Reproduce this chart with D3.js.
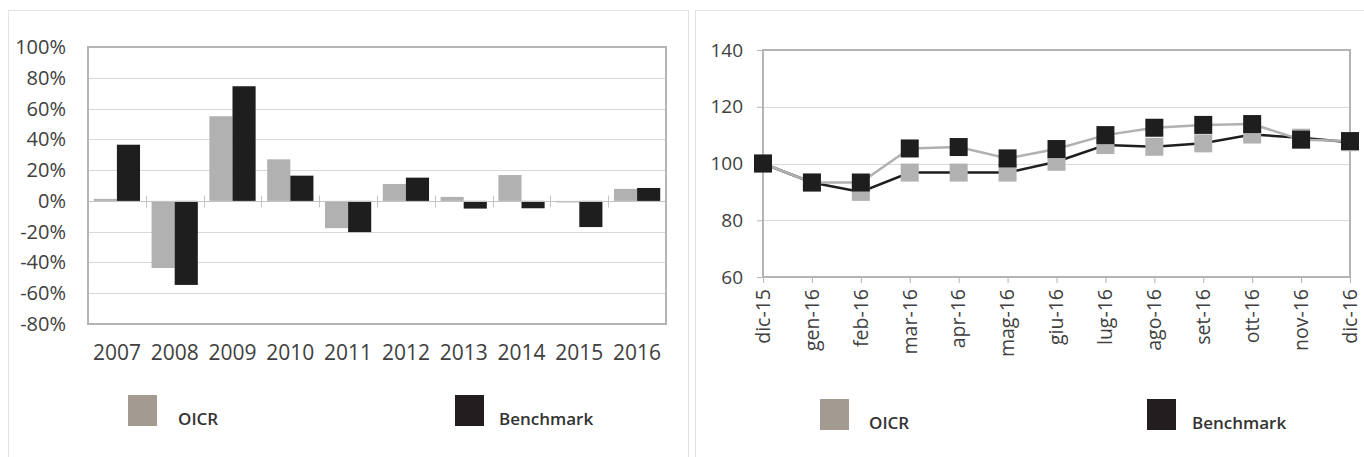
<!DOCTYPE html>
<html>
<head>
<meta charset="utf-8">
<script src="https://cdn.jsdelivr.net/npm/d3@7"></script>
<style>
  body { margin: 0; background: #fff; }
  svg { display: block; font-family: "Open Sans", "Noto Sans", sans-serif; }
</style>
</head>
<body>
<svg width="1364" height="457"></svg>
<script>
// data
var years = ["2007","2008","2009","2010","2011","2012","2013","2014","2015","2016"];
var oicrYear = [0.013, -0.436, 0.55, 0.27, -0.177, 0.11, 0.026, 0.168, -0.01, 0.078];
var benchYear = [0.365, -0.546, 0.745, 0.164, -0.203, 0.151, -0.05, -0.048, -0.17, 0.084];
var yearTicks = [-0.8, -0.6, -0.4, -0.2, 0, 0.2, 0.4, 0.6, 0.8, 1.0];

var months = ["dic-15","gen-16","feb-16","mar-16","apr-16","mag-16","giu-16","lug-16","ago-16","set-16","ott-16","nov-16","dic-16"];
// grey line (drawn with black squares in the original)
var greyLine = [100, 93.3, 93.3, 105.3, 105.8, 101.8, 105.1, 110, 112.6, 113.6, 113.9, 108.4, 107.9];
// black line (drawn with grey squares in the original)
var blackLine = [100, 93.3, 90, 96.8, 96.8, 96.8, 100.6, 106.5, 105.9, 107.1, 110.2, 109.1, 107.5];
var indexTicks = [60, 80, 100, 120, 140];

var seriesNames = ["OICR", "Benchmark"];
var barColors = ["#b1b1b1", "#1e1e1e"];
var legendColors = ["#a39b92", "#221e1f"];

var svg = d3.select("svg");

// panel borders
svg.append("rect").attr("x", 8.5).attr("y", 10.5).attr("width", 680).attr("height", 470)
    .attr("fill", "none").attr("stroke", "#e2e2e2");
svg.append("rect").attr("x", 695.5).attr("y", 10.5).attr("width", 680).attr("height", 470)
    .attr("fill", "none").attr("stroke", "#e2e2e2");

// ---------- left: yearly returns ----------
var L = {left: 88, right: 666, top: 47, bottom: 324};

var x0 = d3.scaleBand().domain(years).range([L.left, L.right]).paddingInner(0).paddingOuter(0);
var x1 = d3.scaleBand().domain(seriesNames).range([x0.bandwidth() * 0.1, x0.bandwidth() * 0.9]);
var yL = d3.scaleLinear().domain([-0.8, 1.0]).range([L.bottom, L.top]);

var gl = svg.append("g");

gl.selectAll(".grid").data(yearTicks.filter(function(d) { return d != 0; }))
    .enter().append("line")
    .attr("x1", L.left).attr("x2", L.right)
    .attr("y1", function(d) { return Math.round(yL(d)) + 0.5; })
    .attr("y2", function(d) { return Math.round(yL(d)) + 0.5; })
    .attr("stroke", "#d9d9d9");

var yearRows = years.map(function(y, i) { return {year: y, vals: [oicrYear[i], benchYear[i]]}; });

gl.selectAll(".grp").data(yearRows)
    .enter().append("g")
    .attr("transform", function(d) { return "translate(" + x0(d.year) + ",0)"; })
    .selectAll("rect")
    .data(function(d) { return d.vals.map(function(v, j) { return {name: seriesNames[j], v: v, j: j}; }); })
    .enter().append("rect")
    .attr("x", function(d) { return x1(d.name); })
    .attr("width", x1.bandwidth())
    .attr("y", function(d) { return yL(Math.max(0, d.v)); })
    .attr("height", function(d) { return Math.abs(yL(d.v) - yL(0)); })
    .attr("fill", function(d) { return barColors[d.j]; });

// zero axis with category ticks
var zeroY = Math.round(yL(0)) + 0.5;
gl.append("line").attr("x1", L.left).attr("x2", L.right).attr("y1", zeroY).attr("y2", zeroY)
    .attr("stroke", "#c4c4c4");
gl.selectAll(".ctick").data(years.slice(1))
    .enter().append("line")
    .attr("x1", function(d) { return Math.round(x0(d)) + 0.5; })
    .attr("x2", function(d) { return Math.round(x0(d)) + 0.5; })
    .attr("y1", zeroY - 6).attr("y2", zeroY + 6)
    .attr("stroke", "#c4c4c4");

// frame
gl.append("rect").attr("x", L.left).attr("y", L.top).attr("width", L.right - L.left).attr("height", L.bottom - L.top)
    .attr("fill", "none").attr("stroke", "#b4b4b4").attr("stroke-width", 2);

// y labels
var pct = d3.format(".0%");
gl.selectAll(".ylab").data(yearTicks)
    .enter().append("text")
    .attr("x", 66).attr("y", function(d) { return yL(d); })
    .attr("dy", "0.35em").attr("text-anchor", "end")
    .attr("font-size", 20).attr("fill", "#404040")
    .text(function(d) { return pct(d).replace("−", "-"); });

// x labels
gl.selectAll(".xlab").data(years)
    .enter().append("text")
    .attr("x", function(d) { return x0(d) + x0.bandwidth() / 2; })
    .attr("y", 360)
    .attr("text-anchor", "middle")
    .attr("font-size", 21).attr("fill", "#404040")
    .text(function(d) { return d; });

// ---------- right: monthly index ----------
var R = {left: 763, right: 1350, top: 50, bottom: 277};

var xR = d3.scalePoint().domain(months).range([R.left, R.right]);
var yR = d3.scaleLinear().domain([60, 140]).range([R.bottom, R.top]);

var gr = svg.append("g");

gr.selectAll(".grid").data(indexTicks.slice(1, -1))
    .enter().append("line")
    .attr("x1", R.left).attr("x2", R.right)
    .attr("y1", function(d) { return Math.round(yR(d)) + 0.5; })
    .attr("y2", function(d) { return Math.round(yR(d)) + 0.5; })
    .attr("stroke", "#d9d9d9");

// axes ticks
gr.append("g").attr("transform", "translate(" + R.left + ",0)")
    .call(d3.axisLeft(yR).tickValues(indexTicks).tickSize(6).tickFormat(""))
    .call(function(g) { g.select(".domain").remove(); g.selectAll("line").attr("stroke", "#b4b4b4"); });
gr.append("g").attr("transform", "translate(0," + R.bottom + ")")
    .call(d3.axisBottom(xR).tickSize(6).tickFormat(""))
    .call(function(g) { g.select(".domain").remove(); g.selectAll("line").attr("stroke", "#b4b4b4"); });

// frame
gr.append("rect").attr("x", R.left).attr("y", R.top).attr("width", R.right - R.left).attr("height", R.bottom - R.top)
    .attr("fill", "none").attr("stroke", "#b4b4b4").attr("stroke-width", 2);

var line = d3.line()
    .x(function(d, i) { return xR(months[i]); })
    .y(function(d) { return yR(d); });

gr.append("path").datum(blackLine).attr("d", line)
    .attr("fill", "none").attr("stroke", "#1e1e1e").attr("stroke-width", 2.5);
gr.append("path").datum(greyLine).attr("d", line)
    .attr("fill", "none").attr("stroke", "#b1b1b1").attr("stroke-width", 2.5);

var ms = 18;
gr.selectAll(".mGrey").data(blackLine)
    .enter().append("rect")
    .attr("x", function(d, i) { return xR(months[i]) - ms / 2; })
    .attr("y", function(d) { return yR(d) - ms / 2; })
    .attr("width", ms).attr("height", ms)
    .attr("fill", "#b1b1b1");
gr.selectAll(".mBlack").data(greyLine)
    .enter().append("rect")
    .attr("x", function(d, i) { return xR(months[i]) - ms / 2; })
    .attr("y", function(d) { return yR(d) - ms / 2; })
    .attr("width", ms).attr("height", ms)
    .attr("fill", "#1e1e1e");

// y labels
gr.selectAll(".ylab").data(indexTicks)
    .enter().append("text")
    .attr("x", 743).attr("y", function(d) { return yR(d); })
    .attr("dy", "0.35em").attr("text-anchor", "end")
    .attr("font-size", 19).attr("fill", "#404040")
    .text(function(d) { return d; });

// x labels, rotated
gr.selectAll(".xlab").data(months)
    .enter().append("text")
    .attr("transform", function(d) { return "translate(" + xR(d) + ",289) rotate(-90)"; })
    .attr("dy", "0.35em").attr("text-anchor", "end")
    .attr("font-size", 19.5).attr("fill", "#404040")
    .text(function(d) { return d; });

// ---------- legends ----------
function legend(items) {
    items.forEach(function(it, i) {
        svg.append("rect").attr("x", it.x).attr("y", it.y).attr("width", 29).attr("height", 31)
            .attr("fill", legendColors[i]);
        svg.append("text").attr("x", it.tx).attr("y", it.y + 30)
            .attr("font-size", 17).attr("font-weight", 600).attr("fill", "#333")
            .text(seriesNames[i]);
    });
}
legend([{x: 128, y: 395, tx: 178}, {x: 455, y: 395, tx: 499}]);
legend([{x: 820, y: 399, tx: 869}, {x: 1147, y: 399, tx: 1192}]);
</script>
</body>
</html>
